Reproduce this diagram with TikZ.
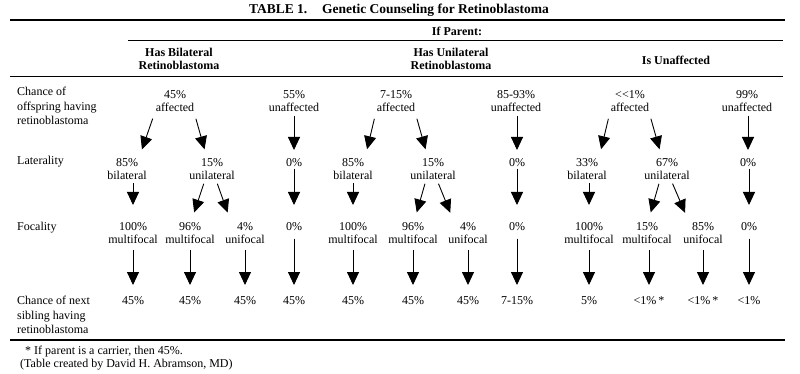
\documentclass[tikz,border=0pt]{standalone}
\usepackage{fontspec}
\setmainfont{Liberation Serif}
\usetikzlibrary{arrows.meta}

\begin{document}
\begin{tikzpicture}[
    x=1pt, y=-1pt,
    cell/.style={align=center, inner sep=0pt, anchor=north, font=\fontsize{12}{13.5}\selectfont},
    rowlab/.style={align=left, inner sep=0pt, anchor=north west, font=\fontsize{12}{14.5}\selectfont},
    head/.style={align=center, inner sep=0pt, anchor=north, font=\bfseries\fontsize{12}{13}\selectfont},
    arr/.style={-{Triangle[width=12pt,length=13pt]}, line width=0.9pt}
]
    \useasboundingbox (0,0) rectangle (800,374);

    % ==========================
    % TITLE AND HEADERS
    % ==========================
    \node[head, font=\bfseries\fontsize{13.5}{15}\selectfont] (title) at (399,3.5)
        {TABLE 1.\hspace{1.1em}Genetic Counseling for Retinoblastoma};
    \draw[line width=1.8pt] (10,20) -- (785,20);
    \node[head] (parent) at (457,27) {If Parent:};
    \draw[line width=1pt] (128,41) -- (783,41);
    \node[head] (hbil) at (179,48) {Has Bilateral\\Retinoblastoma};
    \node[head] (huni) at (451,48) {Has Unilateral\\Retinoblastoma};
    \node[head] (hnone) at (676,55.5) {Is Unaffected};
    \draw[line width=1pt] (10,77) -- (783,77);

    % row labels
    \node[rowlab] (loff) at (17,87) {Chance of\\offspring having\\retinoblastoma};
    \node[rowlab] (llat) at (17,156) {Laterality};
    \node[rowlab] (lfoc) at (17,222) {Focality};
    \node[rowlab] (lsib) at (17,296) {Chance of next\\sibling having\\retinoblastoma};

    % ==========================
    % CELLS
    % ==========================
    \foreach \n/\x/\t in {
        aff1/175/45\%\\affected,
        una1/294/55\%\\unaffected,
        aff2/396/7-15\%\\affected,
        una2/516/85-93\%\\unaffected,
        aff3/630/<{}<1\%\\affected,
        una3/747/99\%\\unaffected}
        \node[cell] (\n) at (\x,90) {\t};

    \foreach \n/\x/\t in {
        bil1/127/85\%\\bilateral, uni1/212/15\%\\unilateral, zl1/294/0\%,
        bil2/353/85\%\\bilateral, uni2/433/15\%\\unilateral, zl2/517/0\%,
        bil3/587/33\%\\bilateral, uni3/667/67\%\\unilateral, zl3/748/0\%}
        \node[cell] (\n) at (\x,158) {\t};

    \foreach \n/\x/\t in {
        fa1/133/100\%\\multifocal, fb1/190/96\%\\multifocal, fc1/245/4\%\\unifocal, fd1/294/0\%,
        fa2/353/100\%\\multifocal, fb2/413/96\%\\multifocal, fc2/468/4\%\\unifocal, fd2/517/0\%,
        fa3/589/100\%\\multifocal, fb3/647/15\%\\multifocal, fc3/703/85\%\\unifocal, fd3/749/0\%}
        \node[cell] (\n) at (\x,222) {\t};

    \foreach \n/\x/\t in {
        na1/133/45\%, nb1/190/45\%, nc1/245/45\%, nd1/294/45\%,
        na2/353/45\%, nb2/413/45\%, nc2/468/45\%, nd2/517/7-15\%,
        na3/589/5\%, nb3/649/<1\%\,*, nc3/703/<1\%\,*, nd3/749/<1\%}
        \node[cell] (\n) at (\x,296) {\t};

    % ==========================
    % ARROWS
    % ==========================
    % offspring -> laterality
    \foreach \a/\b/\c in {aff1/bil1/uni1, aff2/bil2/uni2, aff3/bil3/uni3} {
        \draw[arr, shorten <=7pt, shorten >=9pt] ([xshift=-20pt]\a.south) -- ([xshift=12pt]\b.north);
        \draw[arr, shorten <=7pt, shorten >=9pt] ([xshift=19pt]\a.south) -- ([xshift=-5pt]\c.north);
    }
    \foreach \a/\b in {una1/zl1, una2/zl2, una3/zl3}
        \draw[arr, shorten <=4pt, shorten >=8pt] (\a.south -| \b.north) -- (\b.north);

    % laterality -> focality
    \foreach \a/\b/\c in {uni1/fb1/fc1, uni2/fb2/fc2, uni3/fb3/fc3} {
        \draw[arr, shorten <=4pt, shorten >=10pt] ([xshift=-7pt]\a.south) -- ([xshift=1pt]\b.north);
        \draw[arr, shorten <=4pt, shorten >=10pt] ([xshift=4pt]\a.south) -- ([xshift=-14pt]\c.north);
    }
    \foreach \a/\b in {bil1/fa1, bil2/fa2, bil3/fa3}
        \draw[arr, shorten <=3pt, shorten >=17pt] (\a.south -| \b.north) -- (\b.north);
    \foreach \a/\b in {zl1/fd1, zl2/fd2, zl3/fd3}
        \draw[arr, shorten <=2pt, shorten >=17pt] (\a.south -| \b.north) -- (\b.north);

    % focality -> next sibling
    \foreach \a/\b in {fa1/na1, fb1/nb1, fc1/nc1, fa2/na2, fb2/nb2, fc2/nc2, fa3/na3, fb3/nb3, fc3/nc3}
        \draw[arr, shorten <=6pt, shorten >=11pt] (\a.south -| \b.north) -- (\b.north);
    \foreach \a/\b in {fd1/nd1, fd2/nd2, fd3/nd3}
        \draw[arr, shorten <=8pt, shorten >=11pt] (\a.south -| \b.north) -- (\b.north);

    % ==========================
    % FOOTER
    % ==========================
    \draw[line width=1.8pt] (10,340) -- (785,340);
    \node[rowlab, font=\fontsize{12}{12.5}\selectfont] (foot) at (20,346)
        {\hspace*{5pt}* If parent is a carrier, then 45\%.\\(Table created by David H. Abramson, MD)};

\end{tikzpicture}
\end{document}
